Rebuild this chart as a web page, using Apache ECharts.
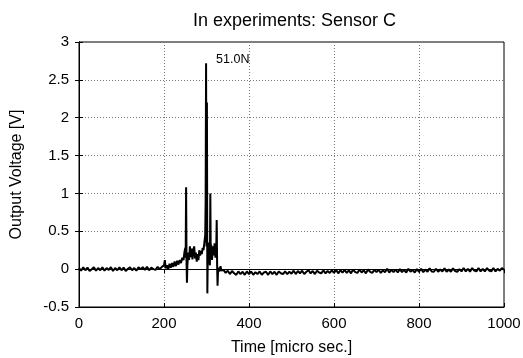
<!DOCTYPE html>
<html>
<head>
<meta charset="utf-8">
<script src="https://cdn.jsdelivr.net/npm/echarts@6/dist/echarts.min.js"></script>
<style>html,body{margin:0;padding:0;background:#fff;}#c{width:523px;height:358px;}</style>
</head>
<body>
<div id="c"></div>
<script>
// ---- data ----
const titleText = "In experiments: Sensor C";
const xAxisName = "Time [micro sec.]";
const yAxisName = "Output Voltage [V]";
const peakLabel = "51.0N";
const xTicks = [0, 200, 400, 600, 800, 1000];
const yTicks = [-0.5, 0, 0.5, 1, 1.5, 2, 2.5, 3];

// baseline before the event, sampled every 5 µs from 0 to 195 µs
const preStartUs = 0;
const preStepUs = 5;
const preVolts = [
  0.015,-0.02,0.025,-0.015,0.02,-0.025,0.00,0.025,-0.02,0.015,
  -0.015,0.025,-0.02,0.015,-0.01,0.025,-0.025,0.015,-0.015,0.025,
  -0.015,0.02,-0.025,0.005,0.025,-0.015,0.015,-0.02,0.025,0.00,
  0.025,-0.01,0.03,-0.015,0.02,0.00,-0.01,0.03,0.00,0.03
];

// event region, irregular samples
const eventTimesUs = [200,202,204,207,210,213,216,219,222,225,228,231,234,237,240,243,246,248,250,251,252,253,254,255,257,259,261,263,265,267,269,271,273,275,277,279,281,283,285,287,289,291,293,295,297,298,299,300,301,302,303,304,306,308,309,310,311,313,315,317,319,321,323,324,325,326,327,329,331,333,335];
const eventVolts = [0.05,0.12,0.01,0.05,0.00,0.07,0.02,0.08,0.03,0.10,0.04,0.11,0.06,0.12,0.08,0.15,0.12,0.22,0.28,0.15,1.08,0.10,-0.18,0.05,0.22,0.12,0.30,0.16,0.27,0.13,0.25,0.30,0.14,0.22,0.10,0.20,0.12,0.25,0.18,0.24,0.20,0.28,0.25,0.35,0.45,0.90,2.72,0.30,2.20,-0.32,0.15,0.35,0.20,0.05,1.00,0.15,0.32,0.12,0.30,0.18,0.34,0.15,0.28,0.65,0.05,-0.22,-0.05,0.02,-0.03,0.04,-0.02];

// decay after the event, sampled every 5 µs from 340 to 1000 µs
const postStartUs = 340;
const postStepUs = 5;
const postVolts = [
  -0.01,-0.05,-0.02,-0.065,-0.025,-0.055,-0.075,-0.03,-0.065,-0.035,-0.075,-0.03,
  -0.065,-0.03,-0.075,-0.04,-0.065,-0.03,-0.075,-0.045,-0.035,-0.075,-0.03,-0.065,-0.035,-0.075,-0.03,-0.055,-0.065,-0.03,-0.065,-0.035,
  -0.06,-0.02,-0.065,-0.025,-0.055,-0.02,-0.065,-0.035,-0.015,-0.055,-0.025,-0.065,-0.02,-0.045,-0.055,-0.015,-0.055,-0.025,-0.05,-0.015,
  -0.05,-0.01,-0.055,-0.015,-0.045,-0.01,-0.05,-0.015,-0.055,-0.005,-0.04,-0.05,-0.005,-0.045,-0.015,-0.055,-0.005,-0.035,-0.05,-0.01,
  -0.04,-0.005,-0.05,-0.015,-0.04,0.005,-0.045,-0.01,-0.04,-0.005,-0.045,0.00,-0.04,-0.01,-0.045,0.005,-0.035,-0.01,-0.045,0.00,
  -0.035,0.005,-0.04,-0.005,-0.035,0.01,-0.03,-0.035,0.005,-0.035,-0.005,-0.03,0.01,-0.035,-0.005,-0.035,0.01,-0.025,-0.035,0.00,
  -0.03,0.015,-0.03,0.005,-0.035,0.015,-0.02,-0.03,0.015,-0.03,0.005,-0.03,0.015,-0.02,-0.03,0.015,-0.03,0.005,-0.02,0.015,-0.01
];
const peakTimeUs = 299;
const peakVolt = 2.72;

// ---- build ----
const points = [];
preVolts.forEach((v, i) => points.push([preStartUs + i * preStepUs, v]));
eventTimesUs.forEach((t, i) => points.push([t, eventVolts[i]]));
postVolts.forEach((v, i) => points.push([postStartUs + i * postStepUs, v]));

const FONT = "Liberation Sans, Arial, Helvetica, sans-serif";
const chart = echarts.init(document.getElementById('c'), null, {renderer: 'canvas'});
const gridLine = {show: true, lineStyle: {color: '#777', type: [1, 2], width: 1}};
chart.setOption({
  animation: false,
  backgroundColor: '#fff',
  title: {
    text: titleText, left: 188, top: 7,
    textStyle: {fontFamily: FONT, fontSize: 18, fontWeight: 'normal', color: '#000'}
  },
  grid: {left: 79, right: 19, top: 42, bottom: 51, outerBoundsMode: 'none', containLabel: false,
         show: true, borderColor: '#000', borderWidth: 1, backgroundColor: 'transparent'},
  xAxis: [{
    type: 'value', min: xTicks[0], max: xTicks[xTicks.length - 1], interval: 200,
    name: xAxisName, nameLocation: 'middle', nameGap: 33,
    nameTextStyle: {fontFamily: FONT, fontSize: 16, color: '#000'},
    axisLine: {show: true, onZero: false, lineStyle: {color: '#000', width: 1}},
    axisTick: {show: true, inside: true, length: 4, lineStyle: {color: '#000'}},
    axisLabel: {fontFamily: FONT, fontSize: 15, color: '#000', margin: 9, formatter: v => String(v)},
    splitLine: gridLine
  }, {
    type: 'value', position: 'top', min: xTicks[0], max: xTicks[xTicks.length - 1], interval: 200,
    axisLine: {show: true, lineStyle: {color: '#000'}},
    axisTick: {show: true, inside: true, length: 4, lineStyle: {color: '#000'}},
    axisLabel: {show: false}, splitLine: {show: false}
  }],
  yAxis: [{
    type: 'value', min: yTicks[0], max: yTicks[yTicks.length - 1], interval: 0.5,
    name: yAxisName, nameLocation: 'middle', nameGap: 54,
    nameTextStyle: {fontFamily: FONT, fontSize: 16, color: '#000'},
    axisLine: {show: true, onZero: false, lineStyle: {color: '#000', width: 1}},
    axisTick: {show: true, inside: true, length: 4, lineStyle: {color: '#000'}},
    axisLabel: {fontFamily: FONT, fontSize: 15, color: '#000', margin: 10, formatter: v => String(v)},
    splitLine: gridLine
  }, {
    type: 'value', position: 'right', min: yTicks[0], max: yTicks[yTicks.length - 1], interval: 0.5,
    axisLine: {show: true, lineStyle: {color: '#000'}},
    axisTick: {show: true, inside: true, length: 4, lineStyle: {color: '#000'}},
    axisLabel: {show: false}, splitLine: {show: false}
  }],
  series: [{
    type: 'line', data: points, xAxisIndex: 0, yAxisIndex: 0,
    showSymbol: false, symbol: 'none',
    lineStyle: {color: '#000', width: 2},
    markPoint: {
      symbol: 'circle', symbolSize: 0,
      label: {show: true, position: 'right', distance: 10, offset: [0, -4], formatter: peakLabel,
              fontFamily: FONT, fontSize: 12.5, color: '#000'},
      data: [{coord: [peakTimeUs, peakVolt]}]
    }
  }]
});
</script>
</body>
</html>
